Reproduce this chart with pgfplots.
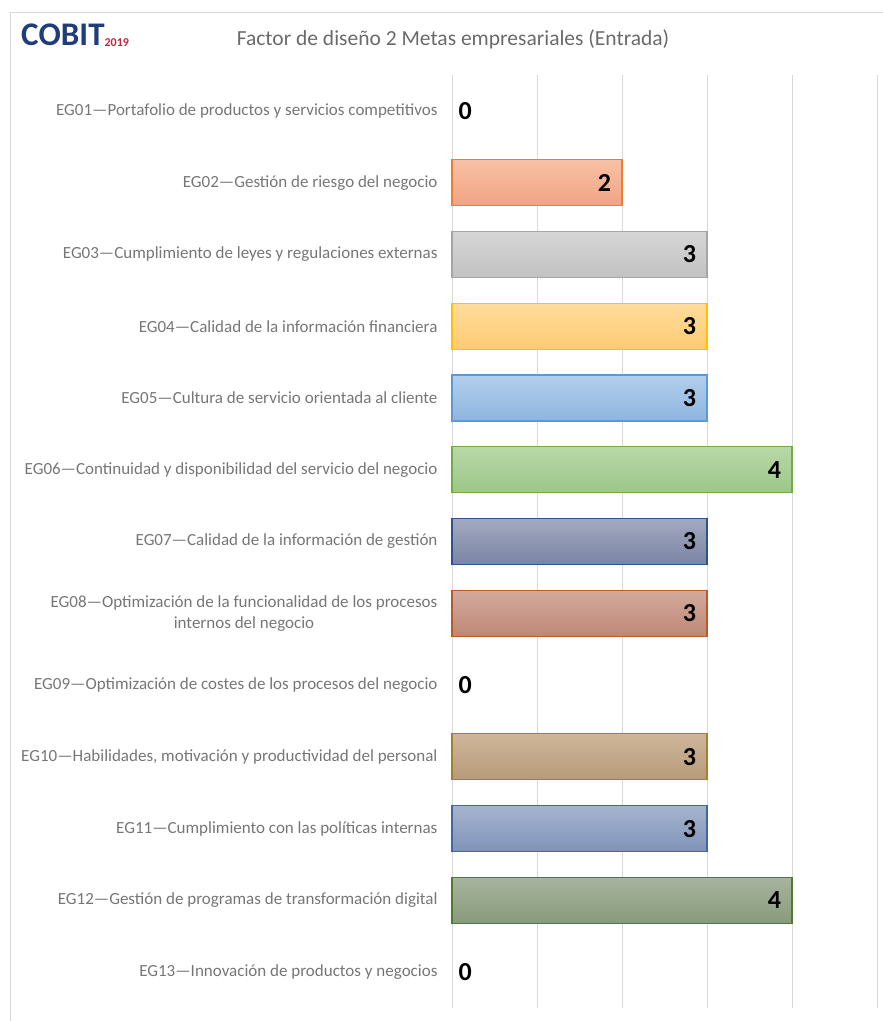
\documentclass[border=0pt]{standalone}
\usepackage{pgfplots}
\pgfplotsset{compat=1.18}
\usepackage{fontspec}
\setmainfont{Carlito}
\newfontfamily\labfont{Carlito}
\definecolor{lab}{HTML}{767676}
\definecolor{ttl}{HTML}{6A6A6A}
\definecolor{grd}{HTML}{D9D9D9}
\definecolor{cobitblue}{HTML}{1F3C7C}
\definecolor{cobitred}{HTML}{C0283A}
\definecolor{b2d}{HTML}{ED7D31}\definecolor{b2t}{HTML}{F8C1A4}\definecolor{b2b}{HTML}{F2A385}
\definecolor{b3d}{HTML}{A5A5A5}\definecolor{b3t}{HTML}{D6D6D6}\definecolor{b3b}{HTML}{C2C2C2}
\definecolor{b4d}{HTML}{FFC000}\definecolor{b4t}{HTML}{FFDC9C}\definecolor{b4b}{HTML}{FDCB72}
\definecolor{b5d}{HTML}{5B9BD5}\definecolor{b5t}{HTML}{B3CFEC}\definecolor{b5b}{HTML}{8EB5E0}
\definecolor{b6d}{HTML}{70AD47}\definecolor{b6t}{HTML}{B8D8A8}\definecolor{b6b}{HTML}{9CC788}
\definecolor{b7d}{HTML}{2F528F}\definecolor{b7t}{HTML}{A3A9C0}\definecolor{b7b}{HTML}{7A84A3}
\definecolor{b8d}{HTML}{B85A2A}\definecolor{b8t}{HTML}{D3AA9E}\definecolor{b8b}{HTML}{BE8775}
\definecolor{b10d}{HTML}{A3812A}\definecolor{b10t}{HTML}{CFB69B}\definecolor{b10b}{HTML}{B69A79}
\definecolor{b11d}{HTML}{41679F}\definecolor{b11t}{HTML}{A5B4CE}\definecolor{b11b}{HTML}{7F92B8}
\definecolor{b12d}{HTML}{4F7A30}\definecolor{b12t}{HTML}{A8B49F}\definecolor{b12b}{HTML}{879B7B}
\begin{document}
\begin{tikzpicture}
\path[use as bounding box] (0,0) rectangle (883bp,-1021bp);
\draw[grd, line width=0.8bp] (10bp,-1021bp) -- (10bp,-12bp) -- (883bp,-12bp);
\node[anchor=west, inner sep=0] at (21bp,-35bp) {\fontsize{33bp}{34bp}\selectfont\bfseries\color{cobitblue}C\textcolor{cobitblue}{O}BIT\raisebox{-1bp}{\fontsize{12bp}{12bp}\selectfont\color{cobitred}2019}};
\node[anchor=center, inner sep=0, text=ttl] at (453bp,-39bp) {\fontsize{21.5bp}{23bp}\selectfont Factor de diseño 2 Metas empresariales (Entrada)};
\begin{axis}[
  at={(452bp,-75bp)}, anchor=north west,
  width=425bp, height=933bp, scale only axis,
  xmin=0, xmax=5, ymin=0.5, ymax=13.5, y dir=reverse,
  xbar, bar width=46bp,
  axis line style={draw=none}, major tick length=0pt,
  xtick={0,1,2,3,4,5}, xticklabels={},
  xmajorgrids, grid style={draw=grd, line width=0.9bp},
  ytick={1,...,13},
  yticklabels={
    EG01—Portafolio de productos y servicios competitivos,
    EG02—Gestión de riesgo del negocio,
    EG03—Cumplimiento de leyes y regulaciones externas,
    EG04—Calidad de la información financiera,
    EG05—Cultura de servicio orientada al cliente,
    EG06—Continuidad y disponibilidad del servicio del negocio,
    EG07—Calidad de la información de gestión,
    {EG08—Optimización de la funcionalidad de los procesos\\internos del negocio},
    EG09—Optimización de costes de los procesos del negocio,
    {EG10—Habilidades, motivación y productividad del personal},
    EG11—Cumplimiento con las políticas internas,
    EG12—Gestión de programas de transformación digital,
    EG13—Innovación de productos y negocios},
  yticklabel style={font=\labfont\fontsize{17bp}{21bp}\selectfont, text=lab, align=center, xshift=-11bp},
  clip=false,
  mybar/.style n args={3}{bar shift=0pt, draw=#1, line width=1.2bp, top color=#2, bottom color=#3,
     nodes near coords={\pgfmathprintnumber[assume math mode=true]{\pgfplotspointmeta}},
     every node near coord/.append style={anchor=east, xshift=-7bp, text=black, font=\fontsize{26bp}{27bp}\selectfont\bfseries}},
]
\addplot[mybar={b2d}{b2t}{b2b}] coordinates {(2,2)};
\addplot[mybar={b3d}{b3t}{b3b}] coordinates {(3,3)};
\addplot[mybar={b4d}{b4t}{b4b}] coordinates {(3,4)};
\addplot[mybar={b5d}{b5t}{b5b}] coordinates {(3,5)};
\addplot[mybar={b6d}{b6t}{b6b}] coordinates {(4,6)};
\addplot[mybar={b7d}{b7t}{b7b}] coordinates {(3,7)};
\addplot[mybar={b8d}{b8t}{b8b}] coordinates {(3,8)};
\addplot[mybar={b10d}{b10t}{b10b}] coordinates {(3,10)};
\addplot[mybar={b11d}{b11t}{b11b}] coordinates {(3,11)};
\addplot[mybar={b12d}{b12t}{b12b}] coordinates {(4,12)};
\addplot[bar shift=0pt, draw=none, fill=none,
  nodes near coords={\pgfmathprintnumber[assume math mode=true]{\pgfplotspointmeta}},
  every node near coord/.append style={anchor=west, xshift=3bp, text=black, font=\fontsize{26bp}{27bp}\selectfont\bfseries}]
  coordinates {(0,1) (0,9) (0,13)};
\end{axis}
\end{tikzpicture}
\end{document}
